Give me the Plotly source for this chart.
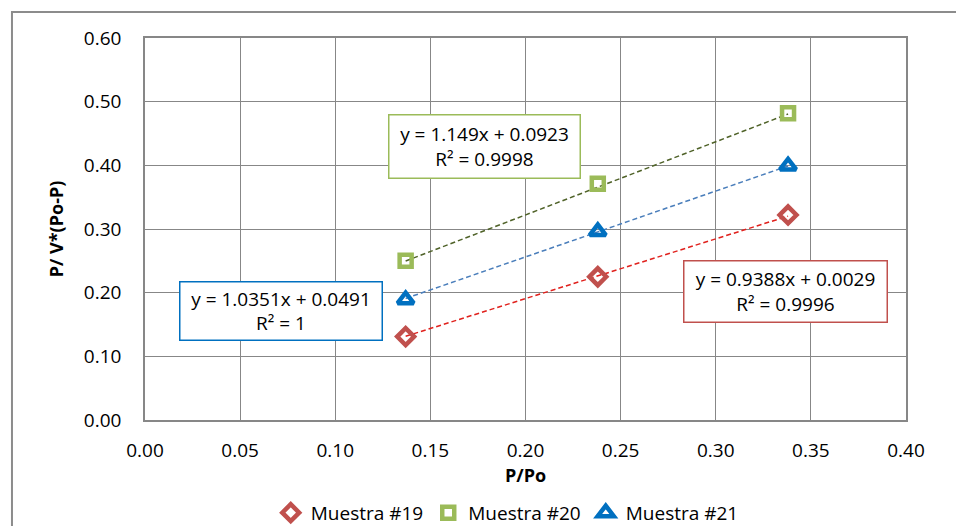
import plotly.graph_objects as go

# Data
x_vals = [0.137, 0.238, 0.338]
s19 = [0.131, 0.225, 0.322]
s20 = [0.250, 0.371, 0.482]
s21 = [0.189, 0.296, 0.399]
names = ["Muestra #19", "Muestra #20", "Muestra #21"]
fits = {  # slope, intercept, r2 label
    "Muestra #19": (0.9388, 0.0029, "0.9996"),
    "Muestra #20": (1.149, 0.0923, "0.9998"),
    "Muestra #21": (1.0351, 0.0491, "1"),
}
x_ticks = [0.00, 0.05, 0.10, 0.15, 0.20, 0.25, 0.30, 0.35, 0.40]
y_ticks = [0.00, 0.10, 0.20, 0.30, 0.40, 0.50, 0.60]

marker_colors = {"Muestra #19": "#c0504d", "Muestra #20": "#9bbb59", "Muestra #21": "#0070c0"}
trend_colors = {"Muestra #19": "#e0201c", "Muestra #20": "#4f6228", "Muestra #21": "#4a7ebb"}
symbols = {"Muestra #19": "diamond-open", "Muestra #20": "square-open", "Muestra #21": "triangle-up-open"}
sizes = {"Muestra #19": 13, "Muestra #20": 12, "Muestra #21": 14}

FONT = "Open Sans"
fig = go.Figure()

series = {"Muestra #19": s19, "Muestra #20": s20, "Muestra #21": s21}

# trendlines first (under markers)
for n in names:
    m, b, _ = fits[n]
    xs = [x_vals[0], x_vals[-1]]
    ys = [m * xx + b for xx in xs]
    fig.add_trace(go.Scatter(x=xs, y=ys, mode="lines", showlegend=False, hoverinfo="skip",
                             line=dict(color=trend_colors[n], width=1.5, dash="5px,3px")))

for n in names:
    fig.add_trace(go.Scatter(x=x_vals, y=series[n], mode="markers", name=n,
                             marker=dict(symbol=symbols[n], size=sizes[n], color=marker_colors[n],
                                         line=dict(width=4.5, color=marker_colors[n]))))

# equation labels
labels = [
    ("Muestra #20", 0.1787, 0.430, 182, 54),
    ("Muestra #21", 0.0717, 0.171, 193, 49),
    ("Muestra #19", 0.3369, 0.2016, 194, 52),
]
for n, ax, ay, w, h in labels:
    m, b, r2 = fits[n]
    txt = f"y = {m}x + {b}<br>R² = {r2}"
    fig.add_annotation(x=ax, y=ay, xref="x", yref="y", text=txt, showarrow=False,
                       font=dict(family=FONT, size=19, color="#000"),
                       bgcolor="white", bordercolor=marker_colors[n], borderwidth=1.5,
                       borderpad=4, width=w, height=h, align="center")

# outer chart border (partially cropped)
fig.add_shape(type="rect", xref="paper", yref="paper", x0=-0.1748, x1=1.2, y0=-0.4, y1=1.068,
              line=dict(color="#8c8c8c", width=2), fillcolor="rgba(0,0,0,0)", layer="below")

axis_common = dict(showgrid=True, gridcolor="#878787", gridwidth=1, showline=True, mirror=True,
                   linecolor="#878787", linewidth=1.5, zeroline=False, ticks="", automargin=False,
                   tickfont=dict(family=FONT, size=19, color="#000"))
fig.update_layout(
    width=956, height=526,
    margin=dict(l=145, r=50, t=38, b=106),
    paper_bgcolor="white", plot_bgcolor="white",
    font=dict(family=FONT, color="#000"),
    xaxis=dict(range=[0, 0.4], tickvals=x_ticks, ticktext=[f"{v:.2f}" for v in x_ticks],
               ticklabelstandoff=12,
               title=dict(text="<b>P/Po</b>", font=dict(family=FONT, size=18), standoff=0),
               **axis_common),
    yaxis=dict(range=[0, 0.6], tickvals=y_ticks, ticktext=[f"{v:.2f}" for v in y_ticks],
               ticklabelstandoff=18,
               title=dict(text="<b>P/ V*(Po-P)</b>", font=dict(family=FONT, size=18), standoff=16),
               **axis_common),
    legend=dict(orientation="h", x=0.476, xanchor="center", xref="paper",
                y=0.025, yref="container", yanchor="middle",
                font=dict(family=FONT, size=19), itemwidth=30, tracegroupgap=0),
    showlegend=True,
)

fig.write_html("out.html")
